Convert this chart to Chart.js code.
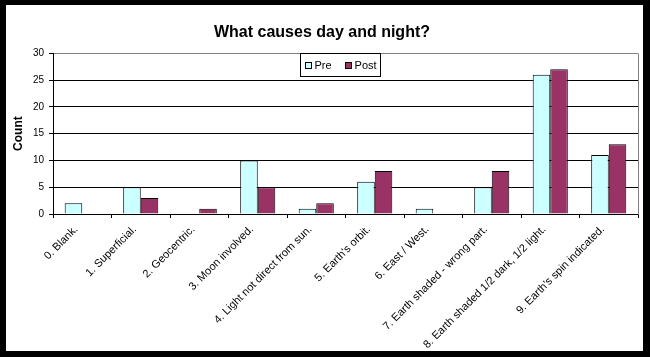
<!DOCTYPE html>
<html>
<head>
<meta charset="utf-8">
<script src="https://cdn.jsdelivr.net/npm/chart.js@4/dist/chart.umd.min.js"></script>
<style>
  html, body { margin: 0; padding: 0; background: #000; width: 650px; height: 357px; overflow: hidden; }
  #frame { position: absolute; left: 6px; top: 5px; width: 637px; height: 346px; background: #fff; overflow: visible; }
  #wrap { position: absolute; left: 0; top: 0; width: 660px; height: 346px; }
</style>
</head>
<body>
<div id="frame"><div id="wrap"><canvas id="c"></canvas></div></div>
<script>
const chartTitle = 'What causes day and night?';
const yAxisTitle = 'Count';
const categories = [
  '0. Blank.',
  '1. Superficial.',
  '2. Geocentric.',
  '3. Moon involved.',
  '4. Light not direct from sun.',
  "5. Earth's orbit.",
  '6. East / West.',
  '7. Earth shaded - wrong part.',
  '8. Earth shaded 1/2 dark, 1/2 light.',
  "9. Earth's spin indicated."
];
const seriesNames = ['Pre', 'Post'];
const preValues  = [2, 5, 0, 10, 1, 6, 1, 5, 26, 11];
const postValues = [0, 3, 1, 5, 2, 8, 0, 8, 27, 13];
const yTicksMin = 0, yTicksMax = 30, yTicksStep = 5;

const FONT = '"Liberation Sans", Arial, Helvetica, sans-serif';

const rightBorder = {
  id: 'rightBorder',
  beforeDatasetsDraw(chart) {
    const {ctx, chartArea} = chart;
    ctx.save();
    ctx.strokeStyle = '#808080';
    ctx.lineWidth = 1;
    const x = Math.round(chartArea.right) + 0.5;
    ctx.beginPath();
    ctx.moveTo(x, Math.round(chartArea.top) + 0.5);
    ctx.lineTo(x, Math.round(chartArea.bottom) + 0.5);
    ctx.stroke();
    ctx.restore();
  }
};

const boxLegend = {
  id: 'boxLegend',
  afterDatasetsDraw(chart) {
    const {ctx, chartArea} = chart;
    ctx.save();
    ctx.font = '11px ' + FONT;
    const items = chart.data.datasets.map(ds => ({label: ds.label, color: ds.backgroundColor, w: ctx.measureText(ds.label).width}));
    const sq = 6, gapBoxText = 4, gapItems = 13, pad = 4;
    const width = Math.round(pad * 2 + items.reduce((s, it) => s + sq + gapBoxText + it.w, 0) + gapItems * (items.length - 1));
    const height = 23;
    const cx = (chartArea.left + chartArea.right) / 2 - 6;
    const x0 = Math.round(cx - width / 2) + 0.5;
    const y0 = Math.round(chartArea.top) + 0.5;
    ctx.fillStyle = '#fff';
    ctx.fillRect(x0, y0, width, height);
    ctx.strokeStyle = '#000';
    ctx.lineWidth = 1;
    ctx.strokeRect(x0, y0, width, height);
    let x = x0 + pad;
    const cy = y0 + height / 2;
    items.forEach((it) => {
      const bx = Math.round(x) + 0.5, by = Math.round(cy - sq / 2) + 0.5;
      ctx.fillStyle = it.color;
      ctx.fillRect(bx, by, sq, sq);
      ctx.strokeStyle = '#000';
      ctx.strokeRect(bx, by, sq, sq);
      x += sq + gapBoxText;
      ctx.fillStyle = '#000';
      ctx.textBaseline = 'middle';
      ctx.textAlign = 'left';
      ctx.fillText(it.label, x, cy + 0.5);
      x += it.w + gapItems;
    });
    ctx.restore();
  }
};

new Chart(document.getElementById('c'), {
  type: 'bar',
  data: {
    labels: categories,
    datasets: [
      { label: seriesNames[0], data: preValues, backgroundColor: '#CCFFFF', borderColor: '#000', borderWidth: 1, borderSkipped: 'bottom' },
      { label: seriesNames[1], data: postValues, backgroundColor: '#993366', borderColor: '#000', borderWidth: 1, borderSkipped: 'bottom' }
    ]
  },
  options: {
    responsive: true,
    maintainAspectRatio: false,
    animation: false,
    devicePixelRatio: 1,
    layout: { padding: { top: 0, right: 28, bottom: 0, left: 0 } },
    datasets: { bar: { categoryPercentage: 0.6, barPercentage: 1.0 } },
    plugins: {
      legend: { display: false },
      tooltip: { enabled: false },
      title: {
        display: true,
        text: chartTitle,
        color: '#000',
        font: { family: FONT, size: 16, weight: 'bold' },
        padding: { top: 18, bottom: 11 }
      }
    },
    scales: {
      x: {
        offset: true,
        afterFit(scale) { scale.height = 137; },
        grid: { offset: true, drawOnChartArea: false, drawTicks: true, tickLength: 4, color: '#000', tickColor: '#000' },
        border: { display: true, color: '#000', width: 1 },
        ticks: { color: '#000', font: { family: FONT, size: 11 }, minRotation: 45, maxRotation: 45, autoSkip: false, padding: 5, labelOffset: -6 }
      },
      y: {
        min: yTicksMin,
        max: yTicksMax,
        afterFit(scale) { scale.width = 47; },
        grid: {
          color: (c) => (c.tick && c.tick.value === yTicksMax) ? '#808080' : '#000',
          tickColor: '#000',
          tickLength: 4,
          drawTicks: true
        },
        border: { display: true, color: '#000', width: 1 },
        ticks: { stepSize: yTicksStep, color: '#000', font: { family: FONT, size: 10 }, padding: 5 },
        title: { display: true, text: yAxisTitle, color: '#000', font: { family: FONT, size: 12, weight: 'bold' }, padding: { top: 5, bottom: 0 } }
      }
    }
  },
  plugins: [rightBorder, boxLegend]
});
</script>
</body>
</html>
